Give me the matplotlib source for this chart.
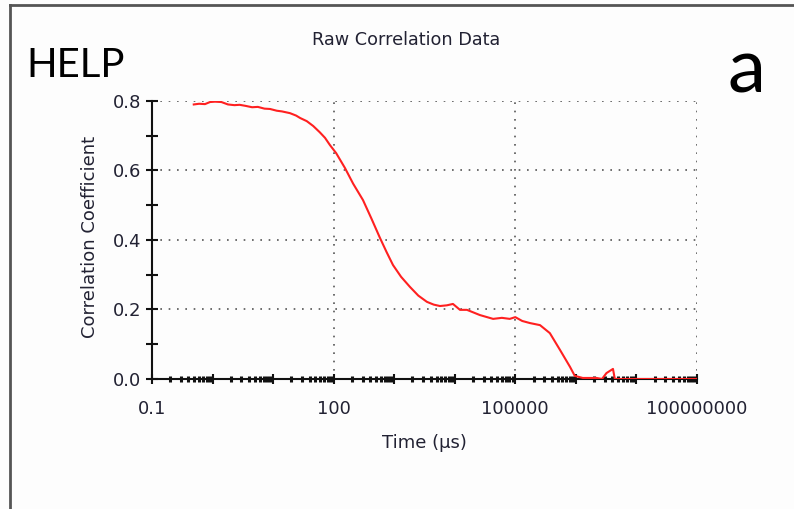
import matplotlib
matplotlib.use("Agg")
import matplotlib.pyplot as plt
from matplotlib.ticker import FixedLocator, NullFormatter

# Data (time in us, correlation coefficient)
timeUs = [0.49, 0.6, 0.75, 0.91, 1.1, 1.4, 1.8, 2.3, 2.8, 3.5, 4.5, 5.6, 7.2, 8.9,
          11.5, 14, 19, 24, 28, 36, 46, 59, 72, 87, 110, 154, 210, 305, 420,
          582, 750, 955, 1300, 1820, 2500, 3470, 4500, 5700, 7400, 9340, 12200,
          15900, 26000, 43000, 60000, 81000, 100000, 130000, 174000, 256000,
          372000, 550000, 800000, 960000, 1.3e6, 2.2e6, 2.7e6, 3.2e6, 4.1e6,
          4.4e6, 1e7, 3e7, 1e8]
corrCoef = [0.790, 0.792, 0.791, 0.797, 0.798, 0.797, 0.790, 0.788, 0.789, 0.786,
            0.782, 0.783, 0.778, 0.777, 0.772, 0.770, 0.765, 0.758, 0.751, 0.742,
            0.728, 0.710, 0.694, 0.673, 0.650, 0.607, 0.562, 0.515, 0.462, 0.406,
            0.365, 0.328, 0.294, 0.265, 0.240, 0.222, 0.214, 0.210, 0.212, 0.216,
            0.199, 0.199, 0.184, 0.173, 0.176, 0.173, 0.178, 0.167, 0.161, 0.155,
            0.132, 0.083, 0.035, 0.009, 0.003, 0.003, 0.0, 0.017, 0.029, 0.0,
            0.0, 0.0, 0.0]

majorTicks = [0.1, 100, 100000, 100000000]
majorLabels = ["0.1", "100", "100000", "100000000"]

plt.rcParams["font.family"] = ["DejaVu Sans"]
textColor = "#222233"
axisFont = 13

fig = plt.figure(figsize=(7.94, 5.09), dpi=100)
fig.patch.set_facecolor("#fdfdfd")
ax = fig.add_axes([0.1914, 0.2554, 0.6864, 0.5462])
ax.set_facecolor("#fdfdfd")

ax.plot(timeUs, corrCoef, color="#ff2020", lw=1.5, zorder=3)

ax.set_xscale("log")
ax.set_xlim(0.1, 1e8)
ax.set_ylim(0, 0.8)

# dotted grid at labelled positions only
for y in [0.2, 0.4, 0.6, 0.8]:
    ax.axhline(y, color="#555555", lw=1.2, ls=(0, (1, 4)), zorder=1)
for x in majorTicks[1:]:
    ax.axvline(x, color="#555555", lw=1.2, ls=(0, (1, 4)), zorder=1)

for side in ["top", "right"]:
    ax.spines[side].set_visible(False)
for side in ["left", "bottom"]:
    ax.spines[side].set_linewidth(1.5)
    ax.spines[side].set_color("#111111")

ax.xaxis.set_major_locator(FixedLocator([10.0 ** k for k in range(-1, 9)]))
ax.xaxis.set_major_formatter(NullFormatter())
ax.xaxis.set_minor_locator(FixedLocator([m * 10.0 ** k for k in range(-1, 8) for m in range(2, 10)]))
ax.xaxis.set_minor_formatter(NullFormatter())
ax.tick_params(axis="x", which="major", direction="inout", length=7, width=1.5, color="#111111")
ax.tick_params(axis="x", which="minor", direction="inout", length=4, width=2.2, color="#111111")
for x, lab in zip(majorTicks, majorLabels):
    ax.text(x, -0.075, lab, ha="center", va="top", fontsize=axisFont, color=textColor,
            transform=ax.get_xaxis_transform())

ax.set_yticks([0.0, 0.2, 0.4, 0.6, 0.8])
ax.set_yticklabels(["0.0", "0.2", "0.4", "0.6", "0.8"], fontsize=axisFont, color=textColor)
ax.set_yticks([0.1, 0.3, 0.5, 0.7], minor=True)
ax.tick_params(axis="y", which="both", direction="inout", length=9, width=1.5, color="#111111", pad=3)

fig.text(0.535, 0.1297, "Time (\u00b5s)", fontsize=axisFont, color=textColor, ha="center", va="center")
fig.text(0.113, 0.534, "Correlation Coefficient", fontsize=axisFont, color=textColor,
         ha="center", va="center", rotation=90)
fig.text(0.512, 0.921, "Raw Correlation Data", fontsize=12.7, color=textColor, ha="center", va="center")

fig.text(0.033, 0.849, "HELP", fontsize=29, family=["Lato", "DejaVu Sans"], va="baseline", ha="left")
fig.text(0.94, 0.819, "a", fontsize=55, family=["Lato", "DejaVu Sans"], va="baseline", ha="center")

# frame lines on left and top of the picture
fig.add_artist(plt.Line2D([0.0126, 0.0126], [0, 0.99], transform=fig.transFigure, color="#555555", lw=2))
fig.add_artist(plt.Line2D([0.0126, 1.0], [0.99, 0.99], transform=fig.transFigure, color="#555555", lw=2))

fig.savefig("out.png", dpi=100, facecolor=fig.get_facecolor())
